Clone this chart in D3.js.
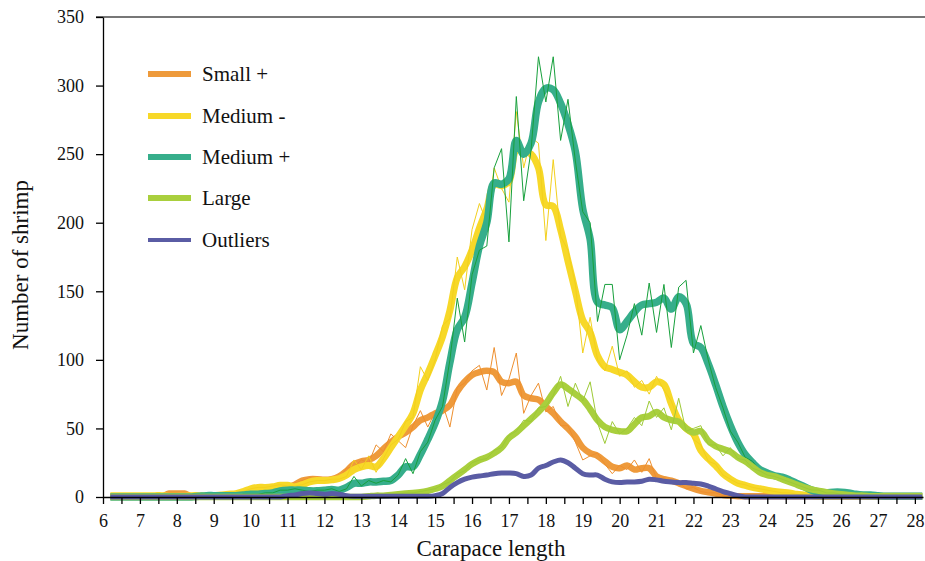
<!DOCTYPE html>
<html>
<head>
<meta charset="utf-8">
<script src="https://cdn.jsdelivr.net/npm/d3@7"></script>
<style>
  html, body { margin: 0; padding: 0; background: #fff; }
  svg { display: block; }
  svg text { font-family: "Liberation Serif", "Times New Roman", "DejaVu Serif", serif; }
</style>
</head>
<body>
<svg id="chart" width="925" height="561"></svg>
<script>
// Carapace length classes (mm), one reading every 0.2 mm
const lengths = [
  6.2,6.4,6.6,6.8,7,
  7.2,7.4,7.6,7.8,8,
  8.2,8.4,8.6,8.8,9,
  9.2,9.4,9.6,9.8,10,
  10.2,10.4,10.6,10.8,11,
  11.2,11.4,11.6,11.8,12,
  12.2,12.4,12.6,12.8,13,
  13.2,13.4,13.6,13.8,14,
  14.2,14.4,14.6,14.8,15,
  15.2,15.4,15.6,15.8,16,
  16.2,16.4,16.6,16.8,17,
  17.2,17.4,17.6,17.8,18,
  18.2,18.4,18.6,18.8,19,
  19.2,19.4,19.6,19.8,20,
  20.2,20.4,20.6,20.8,21,
  21.2,21.4,21.6,21.8,22,
  22.2,22.4,22.6,22.8,23,
  23.2,23.4,23.6,23.8,24,
  24.2,24.4,24.6,24.8,25,
  25.2,25.4,25.6,25.8,26,
  26.2,26.4,26.6,26.8,27,
  27.2,27.4,27.6,27.8,28,
  28.2
];

const seriesNames = ["Small +", "Medium -", "Medium +", "Large", "Outliers"];

// Small + : raw counts and smoothed curve
const smallPlusRaw = [
  0,0,0,0,0, 0,0,0,3,3, 2,0,0,0,0, 0,0,0,2,3,
  4,5,6,6,7, 10,12,14,12,13, 13,14,21,22,27, 25,38,33,46,41,
  36,52,63,51,62, 68,51,80,83,92, 96,78,109,74,86, 105,61,74,83,62,
  66,52,52,40,27, 30,32,24,17,23, 20,27,18,28,13, 14,10,11,6,7,
  4,3,3,1,1, 0,0,0,0,0, 0,0,0,0,0, 0,0,0,0,0,
  0,0,0,0,0, 0,0,0,0,0, 0
];
const smallPlusSmooth = [
  0.5,0.5,0.5,0.5,0.5, 0.5,0.5,0.5,2.5,2.5, 2.5,0.5,0.5,0.5,0.5, 0.5,0.5,0.5,1.5,3,
  4,5,6,6.5,7, 9,12,13,13,12.5, 13,15,19,24,26, 27,30,35,40,44,
  47,51,56,58,61, 63,67,77,84,89, 91,92,91,84,83, 84,74,72,71,66,
  61,55,50,44,36, 32,30,26,22,21, 23,20,21,21,15, 13,12,10,8,6,
  4.5,3.5,2.5,1.5,1, 0.5,0.5,0.5,0.5,0.5, 0.5,0.5,0.5,0.5,0.5, 0.5,0.5,0.5,0.5,0.5,
  0.5,0.5,0.5,0.5,0.5, 0.5,0.5,0.5,0.5,0.5, 0.5
];

// Medium - : raw counts and smoothed curve
const mediumMinusRaw = [
  1,1,1,1,1, 1,1,1,0,0, 0,1,1,1,1, 2,2,3,4,6,
  7,7,8,9,8, 8,9,11,12,12, 13,13,15,27,20, 30,18,28,38,42,
  55,58,95,85,100, 125,130,175,151,195, 214,200,240,225,215, 281,240,262,258,187,
  246,190,180,155,105, 131,100,92,110,88, 92,80,85,75,88, 78,70,55,52,42,
  38,26,24,16,13, 10,9,7,6,5, 4,3,3,2,1, 1,0,0,0,0,
  0,0,0,0,0, 0,0,0,0,0, 0
];
const mediumMinusSmooth = [
  1,1,1,1,1, 1,1,1,0.5,0.5, 0.5,1,1,1,1, 1.5,2,2.5,4,6,
  7,7,7.5,8.5,8.5, 7.5,9,11,12,12, 12.5,13.5,16,20,22, 23,22,28,36,44,
  52,61,78,90,103, 117,136,160,168,180, 196,210,228,227,230, 253,252,250,240,213,
  212,195,172,150,129, 120,103,95,93,91, 89,84,80,80,84, 82,68,56,50,46,
  34,28,23,17,13, 10,8.5,7,6,5, 4,3.5,3,2,1.5, 1,0.5,0.5,0.5,0.5,
  0.5,0.5,0.5,0.5,0.5, 0.5,0.5,0.5,0.5,0.5, 0.5
];

// Medium + : raw counts and smoothed curve
const mediumPlusRaw = [
  0,0,0,0,0, 0,0,0,0,0, 0,0,1,1,1, 1,1,1,2,2,
  2,3,3,5,5, 6,5,4,5,5, 6,4,6,15,8, 12,10,12,11,16,
  28,17,33,40,56, 66,100,145,113,162, 180,183,240,254,186, 292,216,253,321,288,
  321,260,290,245,208, 200,128,155,155,100, 118,141,118,156,120, 155,109,153,158,105,
  125,100,80,65,48, 40,29,26,19,18, 14,15,13,10,7, 4,4,3,4,3,
  3,2,1,2,1, 1,0,1,0,0, 0
];
const mediumPlusSmooth = [
  0,0,0,0,0, 0,0,0,0,0, 0,0,0.5,1,1, 1,1,1,1.5,2,
  2,2.5,3,4.5,5, 5,5,4.5,4.5,5, 5.5,5,7,10,10, 11,11,11.5,12,16,
  22,22,31,42,54, 70,98,122,131,156, 183,200,229,228,232, 260,250,258,288,298,
  297,287,272,252,210, 188,142,140,138,122, 128,135,140,141,142, 145,137,146,141,112,
  109,97,82,66,52, 40,31,25,20,17.5, 15.5,14.5,12.5,10,7.5, 5,3.5,3,3.5,3.5,
  3,2,1.5,1.5,1, 0.5,0.5,0.5,0.5,0.5, 0.5
];

// Large : raw counts and smoothed curve
const largeRaw = [
  0,0,0,0,0, 0,0,0,0,0, 0,0,0,0,0, 0,0,0,0,0,
  0,0,0,0,0, 0,0,0,0,0, 0,0,0,0,0, 1,1,1,2,2,
  3,3,4,5,6, 9,11,17,19,25, 27,28,34,36,45, 48,56,55,65,66,
  74,88,66,83,70, 84,54,39,55,46, 50,58,52,70,58, 65,49,72,48,50,
  52,38,38,30,36, 28,27,21,19,16, 15,13,11,9,7, 5,5,3,3,2,
  1,1,1,0,0, 0,0,0,0,0, 0
];
const largeSmooth = [
  0,0,0,0,0, 0,0,0,0,0, 0,0,0,0,0, 0,0,0,0,0,
  0,0,0,0,0, 0,0,0,0,0, 0,0,0,0,0, 0.5,1,1,1.5,2,
  2.5,3,3.5,4.5,6, 8,12,16,20,24, 27,29,32,36,43, 47,52,57,62,68,
  76,82,79,75,71, 64,56,51,49,48, 48,53,58,59,62, 58,56,55,50,47,
  48,41,37,35,33, 29,26,22,18,16, 15,13,11,9,7, 5.5,4.5,3.5,2.5,2,
  1.5,1,1,0.5,0.5, 0.5,0.5,0.5,0.5,0.5, 0.5
];

// Outliers : raw counts and smoothed curve
const outliersRaw = [
  0,0,0,0,0, 0,0,0,0,0, 0,0,0,0,0, 0,0,0,0,0,
  0,0,0,0,1, 2,3,3,2,2, 3,2,1,0,1, 0,1,0,1,0,
  1,0,1,0,1, 3,7,10,13,15, 15,16,17,18,17, 17,15,16,21,23,
  26,27,25,21,17, 16,16,13,11,10, 11,11,12,13,12, 12,11,10,11,10,
  9,8,6,4,2, 1,0,0,0,0, 0,0,0,0,0, 0,0,0,0,0,
  0,0,0,0,0, 0,0,0,0,0, 0
];
const outliersSmooth = [
  0,0,0,0,0, 0,0,0,0,0, 0,0,0,0,0, 0,0,0,0,0,
  0,0,0,0,1, 1.5,2.5,3,2.5,2, 2.5,2,1,0.5,0.5, 0.5,0.5,0.5,0.5,0.5,
  0.5,0.5,0.5,0.5,1, 2.5,7,10.5,13,14.5, 15.3,16,17,17.5,17.5, 17,15,16,21,23,
  25.5,27,25,21,17, 16,16,13,11,10.5, 11,11,11.5,13,12.5, 11.5,11,10.5,10.5,10,
  9.5,8,6,4,2.5, 1,0,0,0,0, 0,0,0,0,0, 0,0,0,0,0,
  0,0,0,0,0, 0,0,0,0,0, 0
];

// Axis tick labels
const xTickLabels = [6,7,8,9,10,11,12,13,14,15,16,17,18,19,20,21,22,23,24,25,26,27,28];
const yTickLabels = [0,50,100,150,200,250,300,350];

// Drawing styles per series
const styles = {
  "Small +":  { thick: "#ee9a3b", thin: "#ee8f2e", width: 6.5, legendWidth: 6 },
  "Medium -": { thick: "#f7d828", thin: "#f3d01d", width: 7,   legendWidth: 6 },
  "Medium +": { thick: "#36ae8b", thin: "#17a03c", width: 7.5, legendWidth: 6 },
  "Large":    { thick: "#a9cf3d", thin: "#9dca36", width: 6.5, legendWidth: 6 },
  "Outliers": { thick: "#5a5ca4", thin: "#5a5ca4", width: 5,   legendWidth: 4 }
};

const serif = '"Liberation Serif", "Times New Roman", "DejaVu Serif", serif';

const rawSeries = [smallPlusRaw, mediumMinusRaw, mediumPlusRaw, largeRaw, outliersRaw];
const smoothSeries = [smallPlusSmooth, mediumMinusSmooth, mediumPlusSmooth, largeSmooth, outliersSmooth];

const series = seriesNames.map((name, k) => ({
  name,
  raw: rawSeries[k].map((v, i) => ({ len: lengths[i], n: v })),
  smooth: smoothSeries[k].map((v, i) => ({ len: lengths[i], n: v }))
}));

const svg = d3.select("#chart");

const x = d3.scaleLinear().domain([6, 28.22]).range([103, 923]);
const y = d3.scaleLinear().domain([0, 350]).range([497, 17]);

// frame line along the top
svg.append("line")
  .attr("x1", 96).attr("x2", 925)
  .attr("y1", y(350)).attr("y2", y(350))
  .attr("stroke", "#4a4a4a").attr("stroke-width", 1.5);

// curves: smoothed trend (thick) with the raw counts over it (thin)
const thickLine = d3.line()
  .x(d => x(d.len)).y(d => y(d.n))
  .curve(d3.curveCatmullRom.alpha(0.5));
const thinLine = d3.line()
  .x(d => x(d.len)).y(d => y(d.n));

const plot = svg.append("g");
series.forEach(s => {
  const st = styles[s.name];
  plot.append("path")
    .datum(s.smooth)
    .attr("d", thickLine)
    .attr("fill", "none")
    .attr("stroke", st.thick)
    .attr("stroke-width", st.width)
    .attr("stroke-linejoin", "round");
  plot.append("path")
    .datum(s.raw)
    .attr("d", thinLine)
    .attr("fill", "none")
    .attr("stroke", st.thin)
    .attr("stroke-width", 1)
    .attr("stroke-linejoin", "round");
});

// axes
const xTickValues = xTickLabels.flatMap(v => v < 28 ? [v, v + 0.5] : [v]);
const xAxis = d3.axisBottom(x)
  .tickValues(xTickValues)
  .tickSize(7).tickSizeOuter(0).tickPadding(10)
  .tickFormat(d => Number.isInteger(d) ? d : "");
const yAxis = d3.axisLeft(y)
  .tickValues(yTickLabels)
  .tickSize(7).tickSizeOuter(0).tickPadding(12);

const gx = svg.append("g").attr("transform", `translate(0,${y(0)})`).call(xAxis);
const gy = svg.append("g").attr("transform", `translate(${x(6)},0)`).call(yAxis);

[gx, gy].forEach(g => {
  g.attr("font-family", serif).attr("font-size", 18);
  g.select(".domain").attr("stroke", "#000").attr("stroke-width", 1.3);
  g.selectAll(".tick line").attr("stroke", "#000").attr("stroke-width", 1.3);
  g.selectAll(".tick text")
    .attr("fill", "#111")
    .attr("font-family", serif)
    .attr("font-size", 18);
});

// axis titles
svg.append("text")
  .attr("x", 491).attr("y", 556)
  .attr("text-anchor", "middle")
  .attr("fill", "#111")
  .attr("font-family", serif)
  .attr("font-size", 23)
  .text("Carapace length");

svg.append("text")
  .attr("transform", "translate(28,265) rotate(-90)")
  .attr("text-anchor", "middle")
  .attr("fill", "#111")
  .attr("font-family", serif)
  .attr("font-size", 23)
  .text("Number of shrimp");

// legend
const legendY = [74, 116, 157, 198, 240];
const legend = svg.append("g");
seriesNames.forEach((name, i) => {
  const st = styles[name];
  legend.append("line")
    .attr("x1", 148).attr("x2", 191)
    .attr("y1", legendY[i]).attr("y2", legendY[i])
    .attr("stroke", st.thick)
    .attr("stroke-width", st.legendWidth);
  legend.append("text")
    .attr("x", 202).attr("y", legendY[i])
    .attr("dy", "0.35em")
    .attr("fill", "#111")
    .attr("font-family", serif)
    .attr("font-size", 21)
    .text(name);
});
</script>
</body>
</html>
